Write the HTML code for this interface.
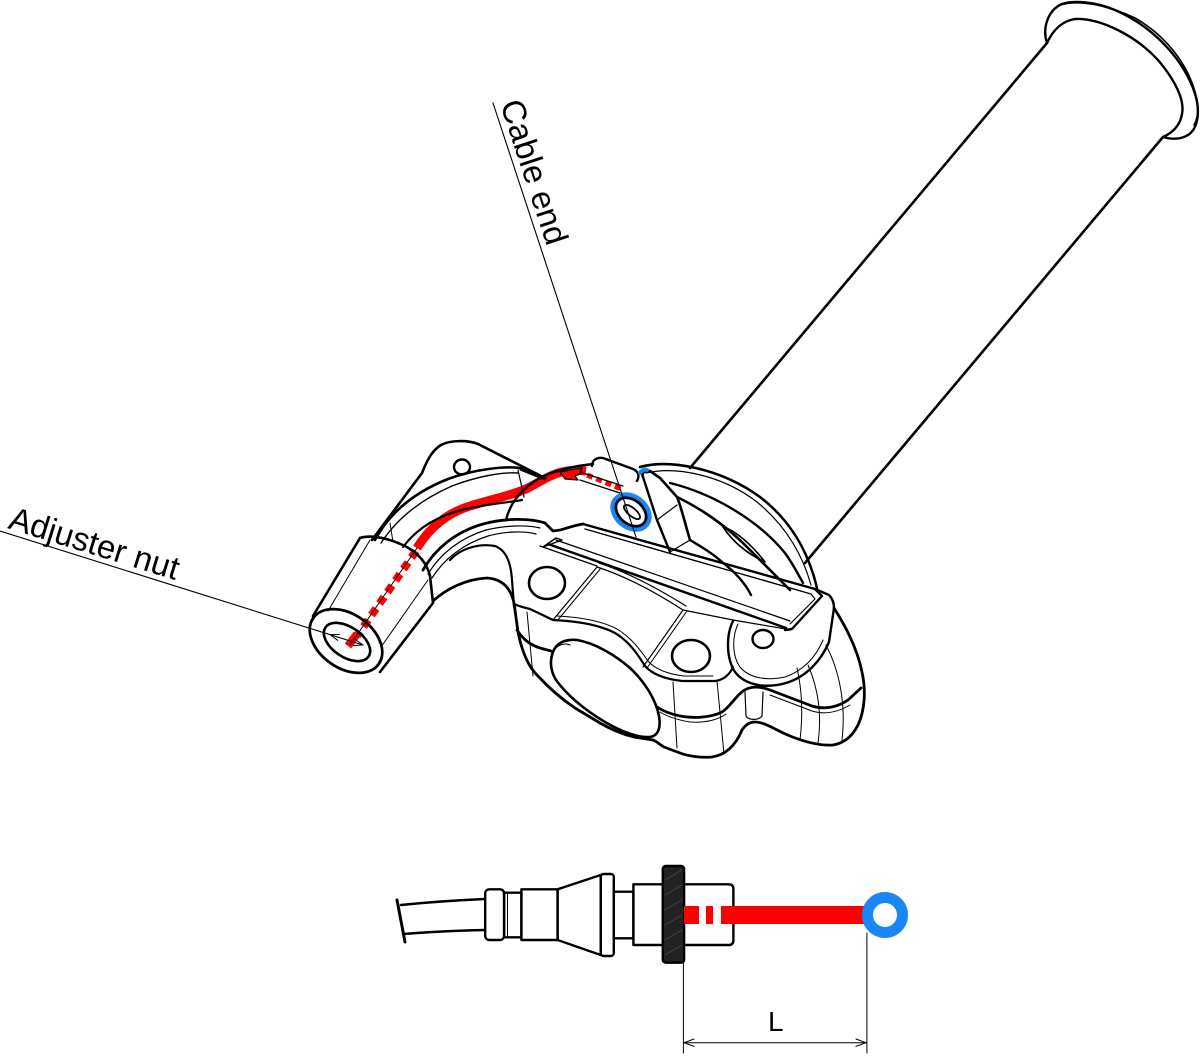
<!DOCTYPE html>
<html><head><meta charset="utf-8">
<style>
html,body{margin:0;padding:0;background:#fff;}
svg{display:block;}
text{font-family:"Liberation Sans",Arial,sans-serif;fill:#000;}
</style></head>
<body>
<svg width="1200" height="1056" viewBox="0 0 1200 1056" xmlns="http://www.w3.org/2000/svg">
<rect width="1200" height="1056" fill="#fff"/>
<g fill="none" stroke="#000" stroke-linecap="round" stroke-linejoin="round">

<!-- Grip tube -->
<path d="M1047,43 L690,468" stroke-width="2.6"/>
<path d="M1163,137 L805,563" stroke-width="2.6"/>
<path d="M1047,43 C1042,28 1048,10 1062,4 C1075,0 1095,2 1115,10 C1150,25 1180,55 1193,88 C1201,108 1199,128 1188,135 C1180,140 1170,139 1163,137" stroke-width="2.4"/>
<path d="M1047,43 C1053,30 1062,21 1075,19 C1100,18 1135,35 1158,60 C1175,80 1185,100 1182,114 C1180,126 1172,133 1163,137" stroke-width="2.4"/>
<path d="M1060,5 C1080,-1 1110,6 1135,18 C1165,35 1190,65 1197,100 C1199,112 1197,120 1194,125" stroke-width="1.6"/>

<!-- Wheel / rim behind -->
<path d="M640,467 C670,459 720,468 760,497 C790,520 808,550 817,588" stroke-width="2.6"/>
<path d="M646,473 C676,466 722,475 757,502 C785,525 802,553 811,585" stroke-width="1.2"/>
<path d="M670,483 C715,494 760,522 785,553 C795,567 800,578 803,583" stroke-width="2.4"/>

<!-- Red cable (solid, upper) -->
<path d="M417,548 C430,527 447,513 470,506 C493,499 513,495 528,488 C538,483 546,477 558,473 C568,470 578,470 586,471" stroke="#ff0000" stroke-width="9" stroke-linecap="butt"/>
<path d="M587,475 L624,490" stroke="#ff0000" stroke-width="5" stroke-dasharray="6 4" stroke-linecap="butt"/>
<!-- Red dashed inside nut -->
<path d="M416,551 L357,636" stroke="#ff0000" stroke-width="8" stroke-dasharray="8 6" stroke-linecap="butt"/>
<path d="M357,634 L348,646" stroke="#ff0000" stroke-width="8" stroke-linecap="butt"/>

<!-- Flange (upper-left bracket) -->
<path d="M372,540 L422,473 C426,463 431,451 441,445 C450,440 468,440 478,444 L545,478" stroke-width="2.6"/>
<ellipse cx="462" cy="467" rx="8" ry="7.5" stroke-width="2.4"/>
<path d="M375,540 C390,512 415,492 448,479 C475,469 505,466 520,468 L542,478" stroke-width="2.6"/>
<path d="M381,543 C396,520 420,500 452,486 C478,476 503,472 518,473" stroke-width="1.4"/>
<path d="M518,470 L524,497 M520,470 L545,480" stroke-width="1.2"/>
<path d="M403,547 C418,527 440,514 470,508 C495,503 512,502 522,500" stroke-width="2.2"/>
<path d="M390,523 L393,542" stroke-width="1"/>

<!-- Dome -->
<path d="M506,520 C510,503 522,488 540,478 C555,470 575,466 593,464" stroke-width="2.4"/>
<path d="M560,472 L582,468 L580,474 L575,476 L578,480 L565,479 Z" fill="#ff0000" stroke="#000" stroke-width="1.2"/>

<!-- Channel top near lever -->
<path d="M592,466 C592,460 597,457 603,458 L633,469 C638,471 640,476 637,481" stroke-width="2.4"/>
<path d="M580,472 L623,486" stroke-width="1.2"/>
<path d="M580,480 L620,493" stroke-width="1.2"/>

<!-- Lever -->
<path d="M643,477 C641,473 645,470 650,471 L660,478 L677,497 C681,506 684,520 690,540" stroke-width="2.6"/>
<path d="M643,477 L657,520 L670,552" stroke-width="2.4"/>
<path d="M657,520 L677,505" stroke-width="1.2"/>
<path d="M670,552 L690,540" stroke-width="1.2"/>
<path d="M690,540 C700,546 712,553 722,562 C735,572 745,583 751,595" stroke-width="2.4"/>
<path d="M677,497 C700,508 725,525 745,545 C760,560 775,575 790,590" stroke-width="2.6"/>
<path d="M723,527 C735,530 752,545 765,562 C752,556 735,545 723,527 Z" stroke-width="1.6"/>
<path d="M640,473 C642,470 645,469 647,470" stroke="#1a85f5" stroke-width="4"/>

<!-- Nut -->
<path d="M360,538 L313,616" stroke-width="2.6"/>
<path d="M360,538 C372,534 390,539 405,546 C418,553 427,563 430,576 L433,603 L380,672" stroke-width="2.6"/>
<path d="M370,540 L328,611" stroke-width="1"/>
<path d="M428,580 L381,647" stroke-width="1"/>
<path d="M417,548 L350,645" stroke-width="1"/>
<ellipse cx="346" cy="641" rx="40" ry="27" transform="rotate(35 346 641)" stroke-width="2.8"/>
<ellipse cx="347" cy="642" rx="26" ry="15" transform="rotate(34 347 642)" stroke-width="2.6"/>

<!-- Arm -->
<path d="M423,570 C435,549 455,532 483,524 C505,518 530,518 545,523 L553,531 L560,530 C568,528 575,525 583,524" stroke-width="2.8"/>
<path d="M428,574 C440,554 460,538 486,530 C507,525 528,525 540,528" stroke-width="1.2"/>
<path d="M432,578 C444,559 463,544 488,536 C506,531 525,531 536,534" stroke-width="1.2"/>
<path d="M450,560 C460,549 478,543 495,546 C506,550 511,563 512,580 L514,606" stroke-width="2.2"/>

<!-- Outer silhouette of clamp -->
<path d="M433,601 C446,589 466,579 487,578 C503,579 511,589 514,603 L518,632 C522,652 528,666 537,675 C548,687 560,698 575,708 L600,723 C612,730 622,734 634,737 L653,740 C658,742 660,745 664,747 L680,753 C688,756 700,758 712,757 C725,755 735,747 742,730 C746,724 750,722 755,722 C765,722 775,730 790,736 C805,742 820,746 833,745 C845,743 853,735 858,725 C865,710 866,690 862,672 C858,652 848,630 834,608" stroke-width="2.8"/>

<!-- Clamp hole -->
<path d="M553,652 C556,643 565,639 577,640 C595,643 615,655 630,668 C645,682 656,700 659,716 C661,728 658,736 650,737 C638,738 620,731 605,722 C585,710 567,695 556,680 C550,670 550,660 553,652 Z" stroke-width="2.6"/>
<path d="M556,648 C560,644 566,643 570,645" stroke-width="1"/>

<!-- Top face -->
<path d="M514,604 C518,606 522,607 530,609 L553,620 C575,621 598,624 615,633 C630,642 638,655 645,666 C652,674 665,679 682,681 L715,681 C724,680 730,674 733,667" stroke-width="2.2"/>
<path d="M557,616 C578,617 600,620 617,629 C632,638 641,651 648,661 C655,669 667,674 684,676 L713,676" stroke-width="1"/>
<path d="M597,567 C625,576 655,592 683,610" stroke-width="1.2"/>
<path d="M599,563 C627,572 657,588 686,606" stroke-width="1.2"/>
<path d="M597,567 L553,620 M683,610 L643,667" stroke-width="1.2"/>
<path d="M601,568 L557,621 M687,611 L647,668" stroke-width="1"/>
<path d="M540,546 L597,566" stroke-width="1.2"/>
<path d="M683,610 L733,620" stroke-width="1.2"/>
<ellipse cx="547" cy="583" rx="18" ry="16" stroke-width="2.6"/>
<ellipse cx="691" cy="656" rx="19" ry="16" stroke-width="2.6"/>
<ellipse cx="763" cy="639" rx="10.5" ry="9" stroke-width="2.4"/>

<!-- Rail -->
<path d="M583,524 L815,589" stroke-width="2.4"/>
<path d="M585,529 L811,594" stroke-width="1.4"/>
<path d="M548,544 L786,628" stroke-width="2.4"/>
<path d="M556,540 L790,621" stroke-width="1.2"/>
<path d="M543,547 L556,538 L562,540 Z" stroke-width="1.4"/>
<path d="M815,589 L822,596 L792,629 L785,630" stroke-width="2.4"/>
<path d="M811,594 L815,599 L790,624" stroke-width="1.2"/>
<path d="M815,589 L829,595 C832,598 834,602 834,608" stroke-width="2.4"/>
<path d="M733,620 L786,629" stroke-width="1.2"/>

<!-- Ear -->
<path d="M733,621 C726,635 726,658 735,672 C745,685 765,689 786,683 C806,677 821,661 829,642 L834,608" stroke-width="2.4"/>
<path d="M738,624 C732,637 732,656 740,667 C749,678 766,681 785,677 C803,671 816,657 823,640" stroke-width="1"/>

<!-- Parting line -->
<path d="M657,707 C663,711 670,714 680,716 C695,719 712,717 722,712 C730,707 735,697 743,691 C750,686 760,686 770,690 L812,706 C825,710 838,707 848,700 L861,688" stroke-width="2.8"/>
<path d="M517,630 C522,638 530,645 540,648 L551,651" stroke-width="2.8"/>
<path d="M660,712 C668,717 678,720 690,722 C705,723 718,720 726,714" stroke-width="1"/>
<path d="M770,695 L812,711 C825,715 838,712 850,705" stroke-width="1"/>

<!-- Vertical detail lines -->
<path d="M527,612 L533,676" stroke-width="1"/>
<path d="M673,682 L677,748" stroke-width="1"/>
<path d="M717,681 L724,754" stroke-width="1"/>
<path d="M745,692 L746,716 C748,720 758,721 762,716 L763,692" stroke-width="1.2"/>
<path d="M797,668 C802,690 803,715 800,740" stroke-width="1"/>
<path d="M808,665 C818,688 822,715 818,743" stroke-width="1"/>
<path d="M826,645 C840,672 846,705 842,740" stroke-width="1"/>

<!-- Blue cable end ring -->
<ellipse cx="631" cy="512" rx="19" ry="14" transform="rotate(40 631 512)" stroke="#1a85f5" stroke-width="7" fill="#fff"/>
<ellipse cx="631" cy="512" rx="17" ry="12" transform="rotate(40 631 512)" stroke="#000" stroke-width="2.6"/>
<ellipse cx="632" cy="512" rx="10" ry="4" transform="rotate(40 632 512)" stroke="#000" stroke-width="1.8"/>

<!-- Leaders -->
<path d="M493,103 L636,537" stroke-width="1.1"/>
<path d="M0,531 L363,645" stroke-width="1.1"/>
<path d="M353.5,645.5 L363,645 L355.3,639.5" stroke-width="1"/>
<path d="M337.7,640.3 L330,634.6 L339.5,634.5" stroke-width="1"/>

<!-- Bottom cable assembly -->
<path d="M401,905 Q440,901 485,899" stroke-width="2.4"/>
<path d="M404,934 Q440,931 485,930" stroke-width="2.4"/>
<path d="M397,900 L405,942" stroke-width="3"/>
<rect x="485.2" y="889.3" width="18.9" height="50.7" rx="4" stroke-width="2.4"/>
<rect x="504.1" y="892.7" width="17.3" height="44.6" stroke-width="2.4"/>
<path d="M507.5,892.7 L507.5,937.3" stroke-width="1"/>
<rect x="521.4" y="889.3" width="36.2" height="50.7" stroke-width="2.4"/>
<path d="M557.6,889.3 L600.7,875 L600.7,955 L557.6,940 Z" stroke-width="2.4"/>
<rect x="600.7" y="874" width="13.1" height="82" rx="3" stroke-width="2.4"/>
<rect x="613.8" y="891.7" width="19.6" height="46.6" stroke-width="2.4"/>
<rect x="633.4" y="884.3" width="29.4" height="60.7" stroke-width="2.4"/>
<path d="M684.1,884.3 L729,884.3 Q733.4,884.3 733.4,889 L733.4,940 Q733.4,945 729,945 L684.1,945" stroke-width="2.4"/>
<rect x="662.8" y="866" width="21.3" height="96.7" rx="3" fill="#222" stroke="#000" stroke-width="2.4"/>
<path d="M665,880 L682,870 M665,895 L682,885 M665,910 L682,900 M665,925 L682,915 M665,940 L682,930 M665,955 L682,945" stroke="#444" stroke-width="1"/>
<path d="M684,915 L699,915 M706,915 L713,915 M721,915 L866,915" stroke="#ff0000" stroke-width="18" stroke-linecap="butt"/>
<circle cx="885" cy="915" r="17.5" stroke="#1a85f5" stroke-width="11" fill="#fff"/>

<!-- Dimension -->
<path d="M683.4,963 L683.4,1053 M866.9,933 L866.9,1053" stroke-width="1"/>
<path d="M683.4,1042.7 L866.9,1042.7" stroke-width="1"/>
<path d="M694,1039 L684,1042.7 L694,1046.4 M856,1039 L866,1042.7 L856,1046.4" stroke-width="1"/>
</g>

<text x="768" y="1031" font-size="28">L</text>
<text x="7" y="528" font-size="33" transform="rotate(17.2 7 528)">Adjuster nut</text>
<text x="500" y="104" font-size="33" transform="rotate(71.76 500 104)">Cable end</text>
</svg>
</body></html>
